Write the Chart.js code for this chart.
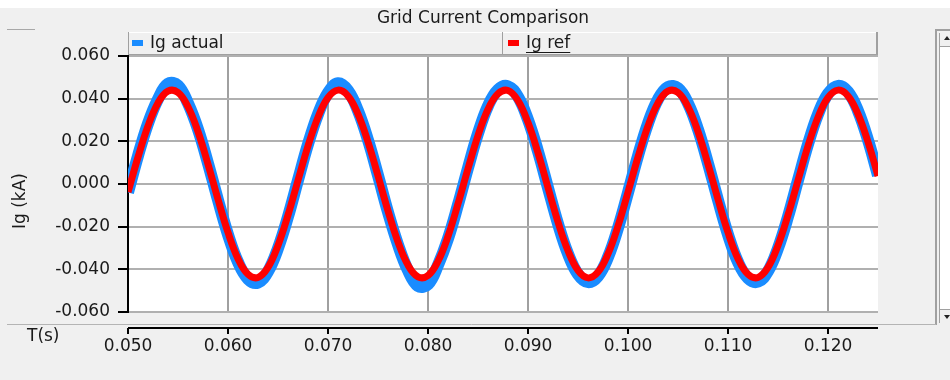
<!DOCTYPE html>
<html>
<head>
<meta charset="utf-8">
<title>Grid Current Comparison</title>
<script src="https://cdn.jsdelivr.net/npm/chart.js@4.4.1/dist/chart.umd.min.js"></script>
<style>
  html, body { margin:0; padding:0; background:#f0f0f0; overflow:hidden; }
  #wrap { width:950px; height:380px; position:relative; }
</style>
</head>
<body>
<div id="wrap"><canvas id="chart"></canvas></div>
<script>
/* Grid current: measured vs reference (PSCAD style plot) */

const FONT = '"DejaVu Sans", Verdana, sans-serif';
Chart.defaults.font.family = FONT;
Chart.defaults.font.size = 17;
Chart.defaults.color = '#1a1a1a';

// time (s)
const times = [
  0.050, 0.051, 0.052, 0.053, 0.054, 0.055, 0.056, 0.057, 0.058, 0.059,
  0.060, 0.061, 0.062, 0.063, 0.064, 0.065, 0.066, 0.067, 0.068, 0.069,
  0.070, 0.071, 0.072, 0.073, 0.074, 0.075, 0.076, 0.077, 0.078, 0.079,
  0.080, 0.081, 0.082, 0.083, 0.084, 0.085, 0.086, 0.087, 0.088, 0.089,
  0.090, 0.091, 0.092, 0.093, 0.094, 0.095, 0.096, 0.097, 0.098, 0.099,
  0.100, 0.101, 0.102, 0.103, 0.104, 0.105, 0.106, 0.107, 0.108, 0.109,
  0.110, 0.111, 0.112, 0.113, 0.114, 0.115, 0.116, 0.117, 0.118, 0.119,
  0.120, 0.121, 0.122, 0.123, 0.124, 0.125
];

// Ig ref (kA)
const igRef = [
  -0.0038, 0.0126, 0.0272, 0.0380, 0.0435, 0.0429, 0.0362, 0.0245, 0.0093, -0.0072,
  -0.0227, -0.0350, -0.0423, -0.0438, -0.0391, -0.0288, -0.0146, 0.0017, 0.0178, 0.0313,
  0.0405, 0.0440, 0.0413, 0.0328, 0.0197, 0.0038, -0.0126, -0.0272, -0.0380, -0.0435,
  -0.0429, -0.0362, -0.0245, -0.0093, 0.0072, 0.0227, 0.0350, 0.0423, 0.0438, 0.0391,
  0.0288, 0.0146, -0.0017, -0.0178, -0.0313, -0.0405, -0.0440, -0.0413, -0.0328, -0.0197,
  -0.0038, 0.0126, 0.0272, 0.0380, 0.0435, 0.0429, 0.0362, 0.0245, 0.0093, -0.0072,
  -0.0227, -0.0350, -0.0423, -0.0438, -0.0391, -0.0288, -0.0146, 0.0017, 0.0178, 0.0313,
  0.0405, 0.0440, 0.0413, 0.0328, 0.0197, 0.0038
];

// Ig actual (kA)
const igActual = [
  -0.0040, 0.0132, 0.0284, 0.0398, 0.0470, 0.0462, 0.0378, 0.0256, 0.0097, -0.0075,
  -0.0237, -0.0366, -0.0445, -0.0462, -0.0410, -0.0301, -0.0153, 0.0018, 0.0186, 0.0327,
  0.0428, 0.0472, 0.0438, 0.0343, 0.0206, 0.0040, -0.0132, -0.0284, -0.0405, -0.0478,
  -0.0470, -0.0380, -0.0256, -0.0097, 0.0075, 0.0237, 0.0366, 0.0442, 0.0458, 0.0409,
  0.0301, 0.0153, -0.0018, -0.0186, -0.0327, -0.0423, -0.0460, -0.0432, -0.0343, -0.0206,
  -0.0040, 0.0132, 0.0284, 0.0397, 0.0455, 0.0449, 0.0378, 0.0256, 0.0097, -0.0075,
  -0.0237, -0.0366, -0.0442, -0.0458, -0.0409, -0.0301, -0.0153, 0.0018, 0.0186, 0.0327,
  0.0423, 0.0460, 0.0432, 0.0343, 0.0206, 0.0040
];

const xTickValues = [0.050, 0.060, 0.070, 0.080, 0.090, 0.100, 0.110, 0.120];
const yTickValues = [-0.060, -0.040, -0.020, 0.000, 0.020, 0.040, 0.060];

const pts = arr => arr.map((v, i) => ({ x: times[i], y: v }));
const fmt = v => (Math.abs(v) < 1e-9 ? 0 : v).toFixed(3);

const frame = {
  id: 'frame',
  beforeDraw(chart) {
    const { ctx, chartArea: a } = chart;
    ctx.save();
    ctx.fillStyle = '#f0f0f0'; ctx.fillRect(0, 0, 950, 380);
    ctx.fillStyle = '#ffffff'; ctx.fillRect(0, 0, 950, 8);
    ctx.fillRect(a.left, a.top, a.right - a.left, a.bottom - a.top);

    ctx.font = '17px ' + FONT;
    ctx.fillStyle = '#1a1a1a';
    ctx.textBaseline = 'middle';
    ctx.textAlign = 'center';
    ctx.fillText('Grid Current Comparison', 483, 19);

    // small separator, top left
    ctx.strokeStyle = '#a8a8a8'; ctx.lineWidth = 1;
    ctx.beginPath(); ctx.moveTo(7, 29.5); ctx.lineTo(35, 29.5); ctx.stroke();

    // legend bar
    ctx.fillStyle = '#f0f0f0'; ctx.fillRect(a.left, 32, a.right - a.left, 22);
    ctx.strokeStyle = '#ffffff';
    ctx.beginPath(); ctx.moveTo(a.left, 32.5); ctx.lineTo(a.right, 32.5); ctx.stroke();
    ctx.strokeStyle = '#a0a0a0';
    ctx.beginPath();
    ctx.moveTo(a.left + 0.5, 32); ctx.lineTo(a.left + 0.5, 55);
    ctx.moveTo(502.5, 32); ctx.lineTo(502.5, 54);
    ctx.moveTo(a.left, 54.5); ctx.lineTo(a.right, 54.5);
    ctx.stroke();
    ctx.lineWidth = 2;
    ctx.beginPath(); ctx.moveTo(a.right - 1, 32); ctx.lineTo(a.right - 1, 55); ctx.stroke();

    ctx.fillStyle = '#1a8cff'; ctx.fillRect(132, 40, 11, 6);
    ctx.fillStyle = '#ff0000'; ctx.fillRect(508, 40, 11, 6);
    ctx.fillStyle = '#1a1a1a'; ctx.textAlign = 'left';
    ctx.fillText('Ig actual', 150, 44);
    ctx.fillText('Ig ref', 526, 44);
    const w = ctx.measureText('Ig ref').width;
    ctx.lineWidth = 1; ctx.strokeStyle = '#1a1a1a';
    ctx.beginPath(); ctx.moveTo(526, 52.5); ctx.lineTo(526 + w, 52.5); ctx.stroke();

    // axis labels
    ctx.fillText('T(s)', 27, 337);
    ctx.save();
    ctx.translate(21, 201); ctx.rotate(-Math.PI / 2);
    ctx.textAlign = 'center';
    ctx.fillText('Ig (kA)', 0, 0);
    ctx.restore();

    // right side scroller
    ctx.strokeStyle = '#a0a0a0'; ctx.lineWidth = 2;
    ctx.beginPath();
    ctx.moveTo(936, 325); ctx.lineTo(936, 30); ctx.lineTo(950, 30);
    ctx.stroke();
    ctx.lineWidth = 1;
    ctx.beginPath();
    ctx.moveTo(939.5, 33); ctx.lineTo(939.5, 323);
    ctx.moveTo(940, 46.5); ctx.lineTo(950, 46.5);
    ctx.moveTo(940, 309.5); ctx.lineTo(950, 309.5);
    ctx.stroke();
    ctx.fillStyle = '#ffffff'; ctx.fillRect(940, 47, 10, 262);
    ctx.fillStyle = '#222';
    ctx.beginPath(); ctx.moveTo(944, 40); ctx.lineTo(950, 40); ctx.lineTo(947, 36); ctx.fill();
    ctx.beginPath(); ctx.moveTo(944, 315); ctx.lineTo(950, 315); ctx.lineTo(947, 319); ctx.fill();

    // bottom separator
    ctx.strokeStyle = '#b4b4b4';
    ctx.beginPath(); ctx.moveTo(7, 324.5); ctx.lineTo(936, 324.5); ctx.stroke();
    ctx.restore();
  },
  afterDraw(chart) {
    const { ctx, chartArea: a } = chart;
    const xs = chart.scales.x;
    ctx.save();
    ctx.strokeStyle = '#000'; ctx.lineWidth = 2;
    ctx.beginPath(); ctx.moveTo(a.left, 328); ctx.lineTo(a.right, 328); ctx.stroke();
    ctx.beginPath();
    xTickValues.forEach(v => {
      const px = Math.round(xs.getPixelForValue(v));
      ctx.moveTo(px, 328); ctx.lineTo(px, 334);
    });
    ctx.stroke();
    ctx.restore();
  }
};

new Chart(document.getElementById('chart'), {
  type: 'line',
  data: {
    datasets: [
      { label: 'Ig ref', data: pts(igRef), borderColor: '#ff0000', borderWidth: 7,
        pointRadius: 0, tension: 0.4, fill: false, order: 0 },
      { label: 'Ig actual', data: pts(igActual), borderColor: '#1a8cff', borderWidth: 12,
        pointRadius: 0, tension: 0.4, fill: false, order: 1 },
    ],
  },
  options: {
    responsive: true, maintainAspectRatio: false, animation: false,
    layout: { padding: { left: 0, top: 56, right: 72, bottom: 0 } },
    plugins: { legend: { display: false }, tooltip: { enabled: false } },
    scales: {
      x: {
        type: 'linear', min: 0.05, max: 0.125,
        afterFit: s => { s.height = 68; },
        afterBuildTicks: s => { s.ticks = xTickValues.map(v => ({ value: v })); },
        ticks: { callback: fmt, padding: 24, maxRotation: 0, autoSkip: false, color: '#1a1a1a' },
        grid: { color: '#a0a0a0', lineWidth: 2, drawTicks: false },
        border: { display: false },
      },
      y: {
        min: -0.06, max: 0.06,
        afterFit: s => { s.width = 128; },
        afterBuildTicks: s => { s.ticks = yTickValues.map(v => ({ value: v })); },
        ticks: { callback: fmt, padding: 8, color: '#1a1a1a' },
        grid: { color: '#b0b0b0', lineWidth: 2, tickLength: 10, tickColor: '#000', tickWidth: 2 },
        border: { display: true, color: '#000', width: 2 },
      },
    },
  },
  plugins: [frame],
});
</script>
</body>
</html>
